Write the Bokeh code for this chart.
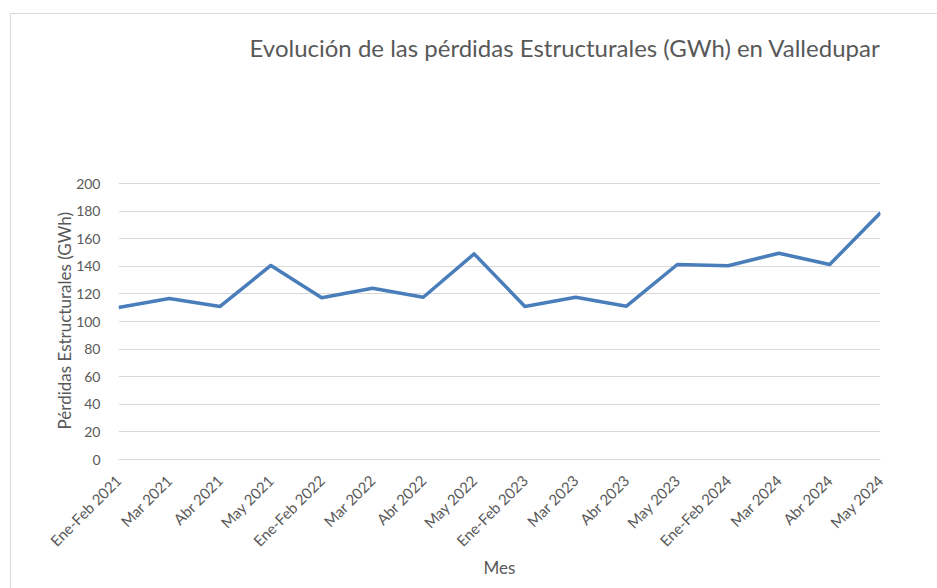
from bokeh.plotting import figure
from bokeh.models import FixedTicker, InlineStyleSheet, Label, Range1d
from bokeh.embed import file_html
from bokeh.resources import INLINE

title_text = "Evolución de las pérdidas Estructurales (GWh) en Valledupar"
y_title = "Pérdidas Estructurales (GWh)"
x_title = "Mes"
months = ["Ene-Feb 2021", "Mar 2021", "Abr 2021", "May 2021",
          "Ene-Feb 2022", "Mar 2022", "Abr 2022", "May 2022",
          "Ene-Feb 2023", "Mar 2023", "Abr 2023", "May 2023",
          "Ene-Feb 2024", "Mar 2024", "Abr 2024", "May 2024"]
perdidas = [110.1, 116.7, 110.9, 140.6, 117.2, 124.1, 117.6, 149.0,
            110.9, 117.6, 111.1, 141.3, 140.4, 149.5, 141.3, 178.8]
y_ticks = [0, 20, 40, 60, 80, 100, 120, 140, 160, 180, 200]

xs = list(range(len(months)))
FONT = "Lato"
GRAY = "#595959"

# frame extends up to the title area; the value axis (0-200) occupies y 183..459
FRAME_TOP, AXIS_TOP, FRAME_BOTTOM = 20, 183, 459
y_end = y_ticks[-1] * (FRAME_BOTTOM - FRAME_TOP) / (FRAME_BOTTOM - AXIS_TOP)

p = figure(width=937, height=588, output_backend="svg", toolbar_location=None,
           x_range=Range1d(0, len(months) - 1), y_range=Range1d(0, y_end),
           min_border_left=118, min_border_right=57, min_border_top=FRAME_TOP,
           min_border_bottom=588 - FRAME_BOTTOM, outline_line_color=None,
           background_fill_color="white", border_fill_color="white")

p.line(xs, perdidas, line_color="#4A7EBB", line_width=3.5, line_join="round")

# title
title = Label(x=len(months) - 1, y=y_ticks[-1], y_offset=AXIS_TOP - 47,
              text=title_text, text_align="right", text_baseline="middle",
              text_font=FONT, text_font_size="24px", text_color=GRAY)
p.add_layout(title)

# axes
p.xaxis.ticker = FixedTicker(ticks=xs)
p.xaxis.major_label_overrides = {i: m for i, m in enumerate(months)}
p.xaxis.major_label_orientation = 0.785398
p.xaxis.major_tick_line_color = None
p.xaxis.minor_tick_line_color = None
p.xaxis.axis_line_color = "#d9d9d9"
p.xaxis.major_label_text_font = FONT
p.xaxis.major_label_text_font_size = "15px"
p.xaxis.major_label_text_color = GRAY
p.xaxis.major_label_standoff = 12
p.xaxis.axis_label = x_title
p.xaxis.axis_label_text_font = FONT
p.xaxis.axis_label_text_font_style = "normal"
p.xaxis.axis_label_text_font_size = "17px"
p.xaxis.axis_label_text_color = GRAY
p.xaxis.axis_label_standoff = -2

p.yaxis.ticker = FixedTicker(ticks=y_ticks)
p.yaxis.major_tick_line_color = None
p.yaxis.minor_tick_line_color = None
p.yaxis.axis_line_color = None
p.yaxis.major_label_text_font = FONT
p.yaxis.major_label_text_font_size = "14px"
p.yaxis.major_label_text_color = GRAY
p.yaxis.major_label_standoff = 12
# trailing en-spaces centre the visible label on the 0-200 value span
p.yaxis.axis_label = y_title + "\u2002" * 19
p.yaxis.axis_label_text_font = FONT
p.yaxis.axis_label_text_font_style = "normal"
p.yaxis.axis_label_text_font_size = "17px"
p.yaxis.axis_label_text_color = GRAY
p.yaxis.axis_label_standoff = -2

p.xgrid.grid_line_color = None
p.ygrid.ticker = FixedTicker(ticks=y_ticks)
p.ygrid.grid_line_color = "#d9d9d9"
p.ygrid.grid_line_width = 1

p.stylesheets = [InlineStyleSheet(css=""":host::after {
  content: ''; position: absolute; left: 10px; top: 13px; right: 0; bottom: 0;
  border-left: 1px solid #d9d9d9; border-top: 1px solid #d9d9d9;
  pointer-events: none; }""")]

open("out.html", "w").write(file_html(p, INLINE))
